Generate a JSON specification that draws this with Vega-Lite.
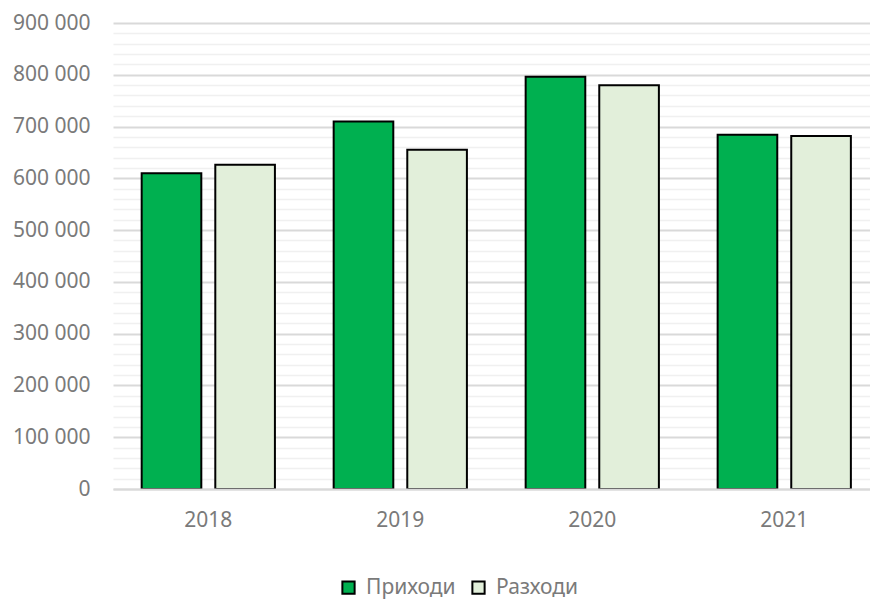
{
  "$schema": "https://vega.github.io/schema/vega-lite/v6.json",
  "width": 757,
  "height": 466,
  "autosize": {"type": "none"},
  "padding": {"left": 113, "top": 23, "right": 0, "bottom": 111},
  "background": "white",
  "config": {
    "view": {"stroke": null},
    "font": "Noto Sans"
  },
  "data": {
    "values": [
      {"year": "2018", "series": "Приходи", "value": 610000},
      {"year": "2018", "series": "Разходи", "value": 626000},
      {"year": "2019", "series": "Приходи", "value": 710000},
      {"year": "2019", "series": "Разходи", "value": 655000},
      {"year": "2020", "series": "Приходи", "value": 796000},
      {"year": "2020", "series": "Разходи", "value": 780000},
      {"year": "2021", "series": "Приходи", "value": 684000},
      {"year": "2021", "series": "Разходи", "value": 682000}
    ]
  },
  "mark": {"type": "bar", "stroke": "black", "strokeWidth": 2},
  "encoding": {
    "x": {
      "field": "year",
      "type": "nominal",
      "scale": {"paddingInner": 0.306, "paddingOuter": 0.1245, "align": 0.6},
      "axis": {
        "title": null,
        "labelAngle": 0,
        "labelFontSize": 21,
        "labelColor": "#7a7a7a",
        "labelPadding": 20,
        "ticks": false,
        "domain": true,
        "domainColor": "#d9d9d9",
        "domainWidth": 2,
        "zindex": 1
      }
    },
    "xOffset": {
      "field": "series",
      "type": "nominal",
      "scale": {"paddingInner": 0.19, "paddingOuter": 0}
    },
    "y": {
      "field": "value",
      "type": "quantitative",
      "scale": {"domain": [0, 900000], "nice": false},
      "axis": {
        "title": null,
        "values": [0, 20000, 40000, 60000, 80000, 100000, 120000, 140000, 160000, 180000, 200000, 220000, 240000, 260000, 280000, 300000, 320000, 340000, 360000, 380000, 400000, 420000, 440000, 460000, 480000, 500000, 520000, 540000, 560000, 580000, 600000, 620000, 640000, 660000, 680000, 700000, 720000, 740000, 760000, 780000, 800000, 820000, 840000, 860000, 880000, 900000],
        "labelExpr": "datum.value % 100000 === 0 ? (datum.value === 0 ? '0' : format(datum.value / 1000, 'd') + ' 000') : ''",
        "labelOverlap": false,
        "labelFlush": false,
        "labelFontSize": 21,
        "labelColor": "#7a7a7a",
        "labelPadding": 23,
        "ticks": false,
        "domain": false,
        "grid": true,
        "gridColor": {"condition": {"test": "datum.value % 100000 === 0", "value": "#d9d9d9"}, "value": "#f0f0f0"},
        "gridWidth": {"condition": {"test": "datum.value % 100000 === 0", "value": 2}, "value": 1.5}
      }
    },
    "color": {
      "field": "series",
      "type": "nominal",
      "scale": {"domain": ["Приходи", "Разходи"], "range": ["#00b050", "#e2efda"]},
      "legend": {
        "title": null,
        "orient": "none",
        "direction": "horizontal",
        "legendX": 225,
        "legendY": 554,
        "symbolType": "square",
        "symbolSize": 150,
        "symbolStrokeColor": "black",
        "symbolStrokeWidth": 2,
        "labelFontSize": 21,
        "labelColor": "#7a7a7a",
        "labelOffset": 7,
        "columnPadding": 12
      }
    }
  }
}
